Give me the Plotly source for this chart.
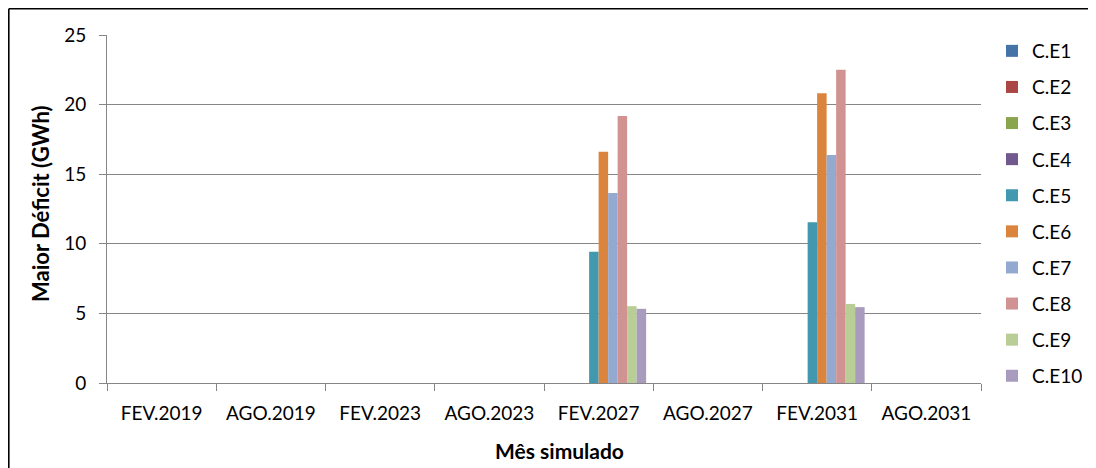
import plotly.graph_objects as go

# categories and series
months = ["FEV.2019", "AGO.2019", "FEV.2023", "AGO.2023",
          "FEV.2027", "AGO.2027", "FEV.2031", "AGO.2031"]
series_names = ["C.E1", "C.E2", "C.E3", "C.E4", "C.E5",
                "C.E6", "C.E7", "C.E8", "C.E9", "C.E10"]

ce1 = [0, 0, 0, 0, 0, 0, 0, 0]
ce2 = [0, 0, 0, 0, 0, 0, 0, 0]
ce3 = [0, 0, 0, 0, 0, 0, 0, 0]
ce4 = [0, 0, 0, 0, 0, 0, 0, 0]
ce5 = [0, 0, 0, 0, 9.42, 0, 11.54, 0]
ce6 = [0, 0, 0, 0, 16.62, 0, 20.82, 0]
ce7 = [0, 0, 0, 0, 13.65, 0, 16.38, 0]
ce8 = [0, 0, 0, 0, 19.19, 0, 22.5, 0]
ce9 = [0, 0, 0, 0, 5.52, 0, 5.68, 0]
ce10 = [0, 0, 0, 0, 5.33, 0, 5.45, 0]

colors = ["#4572A7", "#AA4643", "#89A54E", "#71588F", "#4198AF",
          "#DB843D", "#93A9CF", "#D19392", "#B9CD96", "#A99BBD"]

FONT = "Lato"
# the page body adds an 8px margin, so the figure itself starts at (8, 8)
W, H = 1083, 468
L, R, T, B = 99, 973, 27, 375

fig = go.Figure()
for name, vals, col in zip(series_names,
                           [ce1, ce2, ce3, ce4, ce5, ce6, ce7, ce8, ce9, ce10],
                           colors):
    fig.add_trace(go.Bar(x=months, y=vals, name=name, legendgroup=name,
                         marker=dict(color=col, line=dict(width=0))))

fig.update_layout(
    width=W, height=H,
    margin=dict(l=L, r=W - R, t=T, b=H - B),
    paper_bgcolor="white", plot_bgcolor="white",
    barmode="group", bargap=1.5 / 11.5, bargroupgap=0,
    font=dict(family=FONT, size=19, color="#000000"),
    showlegend=True,
    legend=dict(xref="container", yref="container", x=984 / W, y=1 - 24 / H,
                xanchor="left", yanchor="top", tracegroupgap=8.4,
                maxheight=440,
                font=dict(family=FONT, size=19), itemwidth=30,
                bgcolor="rgba(0,0,0,0)"),
    xaxis=dict(type="category", tickson="boundaries", ticks="outside",
               ticklen=7, tickcolor="#868686", showline=True,
               linecolor="#868686", linewidth=1, showgrid=False,
               tickfont=dict(size=19), ticklabelstandoff=13),
    yaxis=dict(range=[0, 25], dtick=5, ticks="outside", ticklen=7,
               tickcolor="#868686", showline=True, linecolor="#868686",
               linewidth=1, showgrid=True, gridcolor="#868686", gridwidth=1,
               zeroline=False, tickfont=dict(size=19), ticklabelstandoff=9),
)


def px_x(p):
    return (p - L) / (R - L)


def px_y(p):
    return (B - p) / (B - T)


# axis titles
fig.add_annotation(text="<b>Mês simulado</b>", xref="paper", yref="paper",
                   x=px_x(551), y=px_y(442),
                   xanchor="center", yanchor="middle", showarrow=False,
                   font=dict(family=FONT, size=21))
fig.add_annotation(text="<b>Maior Déficit (GWh)</b>", xref="paper", yref="paper",
                   x=px_x(32), y=px_y(196), textangle=-90,
                   xanchor="center", yanchor="middle", showarrow=False,
                   font=dict(family=FONT, size=22))

# outer chart frame
for x0, y0, x1, y1 in [(0.8, 0.8, W - 0.8, 0.8), (0.8, 0.8, 0.8, H),
                       (W - 0.8, 0.8, W - 0.8, H)]:
    fig.add_shape(type="line", xref="paper", yref="paper",
                  x0=px_x(x0), y0=px_y(y0), x1=px_x(x1), y1=px_y(y1),
                  line=dict(color="#000000", width=1.6))

fig.write_html("out.html")
